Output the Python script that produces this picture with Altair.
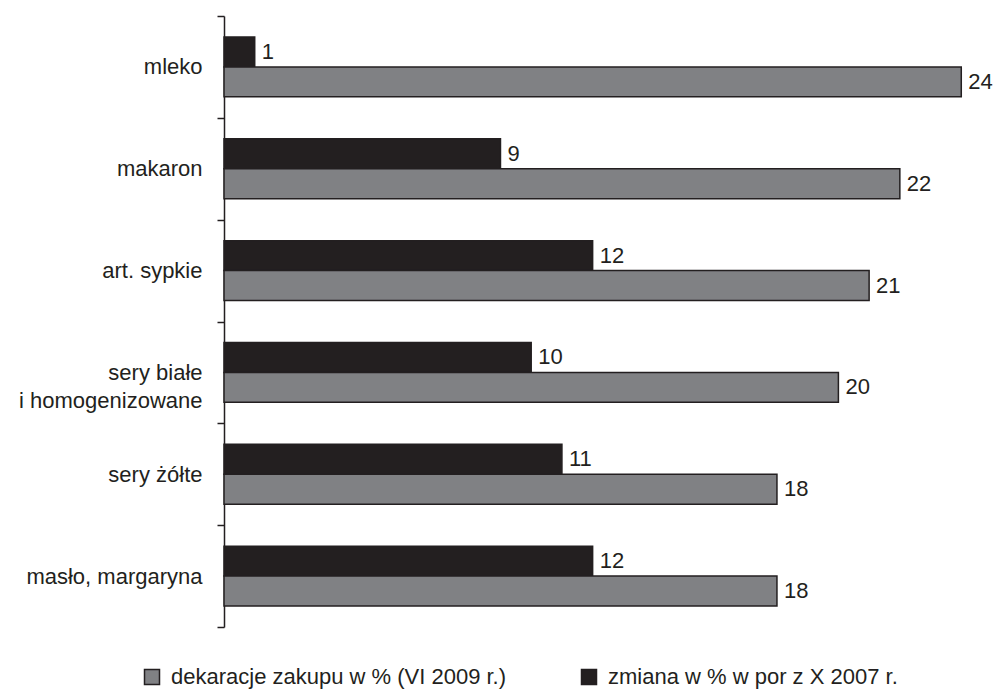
import altair as alt
import pandas as pd

# Product groups (a "|" marks a line break in the axis label)
categories = [
    "mleko",
    "makaron",
    "art. sypkie ",
    "sery białe|i homogenizowane",
    "sery  żółte",
    "masło, margaryna",
]

series_declared = "dekaracje zakupu w % (VI 2009 r.)"
series_change = "zmiana w % w por z X 2007 r."

declared_values = [24, 22, 21, 20, 18, 18]
change_values = [1, 9, 12, 10, 11, 12]

INK = "#231f20"
GREY = "#808184"
FONT = "Liberation Sans"

rows = []
for cat, d, c in zip(categories, declared_values, change_values):
    rows.append({"kategoria": cat, "seria": series_change, "wartosc": c})
    rows.append({"kategoria": cat, "seria": series_declared, "wartosc": d})
df = pd.DataFrame(rows)

y_enc = alt.Y(
    "kategoria:N",
    sort=categories,
    scale=alt.Scale(paddingInner=0, paddingOuter=0),
    axis=alt.Axis(
        title=None,
        labelExpr="split(datum.label, '|')",
        labelLineHeight=28,
        labelFontSize=22,
        labelFont=FONT,
        labelColor=INK,
        labelPadding=15,
        labelLimit=0,
        tickSize=7,
        tickWidth=1.5,
        tickColor=INK,
        tickBand="extent",
        domainColor=INK,
        domainWidth=1.5,
        grid=False,
    ),
)
yoff_enc = alt.YOffset(
    "seria:N",
    sort=[series_change, series_declared],
    scale=alt.Scale(paddingInner=0, paddingOuter=0.7),
)
x_enc = alt.X(
    "wartosc:Q",
    scale=alt.Scale(domain=[0, 25], nice=False, zero=True),
    axis=None,
)

bars = alt.Chart(df).mark_bar(stroke=INK, strokeWidth=1.5).encode(
    y=y_enc,
    yOffset=yoff_enc,
    x=x_enc,
    color=alt.Color(
        "seria:N",
        scale=alt.Scale(domain=[series_declared, series_change], range=[GREY, INK]),
        legend=alt.Legend(
            title=None,
            orient="none",
            direction="horizontal",
            legendX=-83,
            legendY=650,
            padding=0,
            symbolType="square",
            symbolSize=225,
            symbolStrokeColor=INK,
            symbolStrokeWidth=1.5,
            labelFont=FONT,
            labelFontSize=22,
            labelColor=INK,
            labelOffset=8,
            labelLimit=0,
            columnPadding=71,
        ),
    ),
)

labels = alt.Chart(df).mark_text(
    align="left", baseline="middle", dx=7, font=FONT, fontSize=22, color=INK
).encode(
    y=alt.Y("kategoria:N", sort=categories),
    yOffset=alt.YOffset("seria:N", sort=[series_change, series_declared]),
    x=alt.X("wartosc:Q"),
    text=alt.Text("wartosc:Q"),
)

chart = (
    alt.layer(bars, labels)
    .properties(
        width=768,
        height=611,
        padding={"left": 224, "top": 16, "right": 1, "bottom": 66},
        autosize=alt.AutoSizeParams(type="none"),
        background="white",
    )
    .configure_view(stroke=None)
)

chart.save("out.html", embed_options={"renderer": "svg", "actions": False})
